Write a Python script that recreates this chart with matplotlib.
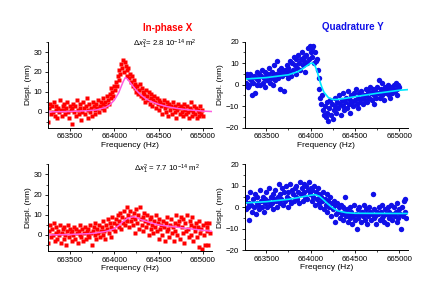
import numpy as np
import matplotlib
matplotlib.use('Agg')
from matplotlib import pyplot as plt
from matplotlib.ticker import MultipleLocator

plt.rcParams['font.family'] = ['Liberation Sans', 'DejaVu Sans']
plt.rcParams['mathtext.fontset'] = 'custom'
plt.rcParams['mathtext.rm'] = 'Liberation Sans'
plt.rcParams['mathtext.it'] = 'Liberation Sans:italic'

# frequency sweep (Hz)
freq_top = np.arange(663260, 665001, 10)
freq_bot = np.arange(663260, 665081, 10)

# in-phase X, top
x_top = [-5, 2, 4, -1, 3, 0, 5, -2, 1, 3, -3, 2, 0, 6, 1,
         -2, 3, 1, 4, -1, 2, 5, 0, -3, 3, 1, -6, 2, 4, 0,
         3, -2, 6, 1, -1, 4, 2, -4, 0, 5, 2, -1, 3, 7, -3,
         1, 4, 0, 2, -2, 5, 3, 1, -1, 4, 2, 6, 0, 3, 5,
         2, 7, 4, 1, 5, 3, 8, 6, 4, 9, 7, 12, 10, 8, 13,
         11, 15, 13, 18, 16, 21, 19, 24, 22, 26, 20, 25, 23, 21, 18,
         22, 17, 19, 15, 18, 13, 16, 12, 14, 10, 13, 9, 11, 14, 8,
         12, 7, 10, 9, 5, 11, 8, 6, 10, 4, 7, 9, 3, 6, 8,
         5, 2, 7, 4, 6, 1, 5, 3, -1, 4, 6, 2, 0, 5, 3,
         -2, 4, 1, 3, -1, 5, 2, 0, 3, -3, 1, 4, 2, -1, 3,
         0, 2, -2, 4, 1, -1, 3, 0, -3, 2, 5, 1, -2, 0, 3,
         -1, 2, -3, 1, 0, -2, 3, -1, 1, -2]
fitx_top_f = [663250, 663500, 663700, 663800, 663900, 663950, 664000, 664050, 664100,
              664125, 664150, 664200, 664250, 664300, 664350, 664400, 664500, 664600,
              664700, 664800, 664900, 665000, 665100]
fitx_top = [0.0, 0.2, 0.6, 1.0, 2.2, 3.5, 5.8, 9.5, 15.0,
            17.2, 16.5, 13.5, 10.8, 8.5, 6.8, 5.5, 3.8, 2.6,
            1.8, 1.2, 0.8, 0.4, 0.2]

# quadrature Y, top
y_top = [4, 1, 5, -1, 3, 0, 5, 2, -5, 1, 4, -4, 3, 0, 6,
         2, 5, 0, 4, 7, 1, 3, 6, -1, 4, 2, 5, 8, 1, 3,
         6, 0, 4, 9, 2, 5, 11, 3, 7, -2, 5, 8, 4, 6, -3,
         7, 5, 9, 3, 8, 6, 11, 4, 10, 7, 13, 9, 5, 12, 8,
         14, 10, 7, 12, 15, 9, 13, 11, 6, 14, 10, 17, 12, 18, 15,
         17, 13, 18, 10, 15, 11, 12, 7, 3, -2, -6, -9, -5, -12, -14,
         -10, -15, -8, -13, -17, -11, -7, -14, -9, -16, -12, -6, -10, -13, -8,
         -11, -5, -9, -14, -7, -10, -4, -12, -8, -6, -11, -3, -9, -7, -13,
         -5, -8, -10, -4, -7, -2, -9, -6, -11, -4, -8, -3, -6, -9, -5,
         -7, -2, -5, -8, -3, -6, -1, -4, -7, -2, -5, -9, -3, -6, -1,
         -4, 2, -6, -2, -5, 1, -3, -7, -1, -4, -2, 0, -5, -3, -6,
         -1, -4, -2, 0, -3, 1, -2, -5, 0, -1]
fity_top_f = [663250, 663500, 663750, 663850, 663900, 663950, 664000, 664025, 664050,
              664075, 664100, 664125, 664150, 664200, 664250, 664300, 664400, 664500,
              664750, 665000, 665100]
fity_top = [2.6, 3.3, 4.6, 6.0, 7.1, 8.6, 10.0, 10.0, 8.8,
            6.0, 2.2, -1.0, -3.5, -6.0, -6.9, -6.9, -6.3, -5.6,
            -4.0, -2.6, -2.3]

# in-phase X, bottom
x_bot = [-4, 2, 5, -1, 3, 0, 6, -3, 1, 4, -2, 2, 0, 5, -4,
         1, 3, -2, 4, 0, -5, 2, 5, -1, 3, 1, -3, 2, 0, 4,
         -2, 3, 1, -4, 2, 5, 0, -1, 3, -3, 1, 4, -2, 2, 0,
         3, -1, 5, 1, -5, 2, 4, 0, 6, -2, 3, 1, 5, -1, 2,
         4, 0, 7, 2, -2, 5, 3, 8, 1, 6, 4, -1, 9, 3, 6,
         2, 8, 5, 10, 4, 7, 11, 3, 9, 6, 12, 5, 8, 14, 7,
         10, 4, 12, 7, 9, 5, 11, 1, 8, 13, 6, 10, 3, 14, 8,
         5, 9, 2, 11, 7, 4, 10, 6, 0, 8, 3, 9, 5, 1, 7,
         4, 10, 2, 6, -2, 8, 3, 5, 0, 7, 4, -3, 6, 2, 9,
         3, -1, 5, 8, 1, 4, -3, 6, 2, 10, 0, 5, 7, -2, 9,
         4, 1, 8, -4, 6, 2, 10, 3, -1, 7, 0, 5, 9, -3, 4,
         2, 6, -1, 4, -6, 7, 1, 3, -7, 5, 0, -5, 6, 2, 4,
         -5, 6, 1]
fitx_bot_f = [663250, 663500, 663750, 663900, 664000, 664050, 664100, 664150, 664200,
              664225, 664250, 664300, 664400, 664500, 664750, 665000, 665100]
fitx_bot = [0.0, 0.2, 0.7, 1.7, 3.0, 4.6, 6.7, 8.2, 8.9,
            9.0, 8.7, 7.6, 6.2, 5.0, 3.6, 2.3, 1.8]

# quadrature Y, bottom
y_bot = [3, -1, 5, 0, -6, 2, 7, 1, -2, 4, 0, 6, -3, 2, 5,
         1, -1, 8, 3, 0, 5, -2, 4, 2, 7, 0, 3, 9, 1, 5,
         2, 6, -1, 4, 8, 3, 0, 5, 11, 2, 6, 4, 9, 1, 7,
         3, 10, 5, 0, 7, 4, 11, 2, 8, 6, 3, 9, 5, 10, 4,
         7, 2, 12, 6, 9, 3, 11, 7, 5, 10, 4, 8, 12, 6, 9,
         3, 8, 5, 10, 1, 7, 4, 9, 2, 6, 0, 5, 3, 7, -1,
         4, 1, 6, -2, 3, 0, 5, -4, 2, -1, 3, -7, 1, -3, 2,
         -2, 0, -5, 1, -3, -6, 0, -2, 5, -4, -1, -7, -3, 0, -5,
         -2, -8, -4, 1, -6, -3, -10, -1, -5, 0, -3, -7, -2, -4, 1,
         -6, -3, -1, -8, -4, 0, -2, -6, -3, 6, -5, -1, -4, -8, -2,
         -3, 0, -6, -2, -5, 1, -4, -7, -1, -3, -8, 0, -5, -2, -4,
         1, -6, -3, 0, -4, -2, -7, 2, -5, -1, -3, -10, 0, -4, 3,
         -2, 4, -5]
fity_bot_f = [663250, 663500, 663750, 663900, 664000, 664050, 664100, 664150, 664200,
              664250, 664300, 664400, 664500, 665000, 665100]
fity_bot = [2.0, 2.6, 3.7, 4.8, 5.6, 5.9, 5.1, 3.3, 1.4,
            -0.3, -1.6, -2.5, -2.8, -2.9, -2.9]

red = '#ff0000'
blue = '#1010e8'
pink = '#ff5ce0'
cyan = '#00e8ff'

fig = plt.figure(figsize=(4.36, 2.94), dpi=100)
ax1 = fig.add_axes([0.110, 0.565, 0.376, 0.292])
ax2 = fig.add_axes([0.561, 0.566, 0.375, 0.292])
ax3 = fig.add_axes([0.110, 0.146, 0.376, 0.295])
ax4 = fig.add_axes([0.561, 0.149, 0.375, 0.292])

ax1.plot(freq_top, x_top, 's', color=red, ms=3.5, mec='none')
ax1.plot(fitx_top_f, fitx_top, '-', color=pink, lw=1.1)
ax2.plot(freq_top, y_top, 'o', color=blue, ms=3.9, mec='none')
ax2.plot(fity_top_f, fity_top, '-', color=cyan, lw=1.2)
ax3.plot(freq_bot, x_bot, 's', color=red, ms=3.5, mec='none')
ax3.plot(fitx_bot_f, fitx_bot, '-', color=pink, lw=1.1)
ax4.plot(freq_bot, y_bot, 'o', color=blue, ms=3.9, mec='none')
ax4.plot(fity_bot_f, fity_bot, '-', color=cyan, lw=1.2)

for ax in [ax1, ax2, ax3, ax4]:
    ax.set_xlim(663255, 665100)
    ax.spines['top'].set_visible(False)
    ax.spines['right'].set_visible(False)
    ax.spines['left'].set_linewidth(0.7)
    ax.spines['bottom'].set_linewidth(0.7)
    ax.xaxis.set_major_locator(MultipleLocator(500))
    ax.xaxis.set_minor_locator(MultipleLocator(250))
    ax.yaxis.set_major_locator(MultipleLocator(10))
    ax.yaxis.set_minor_locator(MultipleLocator(5))
    ax.tick_params(which='major', direction='out', length=2.5, width=0.6, labelsize=5.7, pad=1.5)
    ax.tick_params(which='minor', direction='out', length=1.5, width=0.5)
    ax.set_ylabel('Displ. (nm)', fontsize=6, labelpad=1)

for ax in [ax1, ax3]:
    ax.set_ylim(-8, 35)
for ax in [ax2, ax4]:
    ax.set_ylim(-20, 20)

ax1.set_xlabel('Frequency (Hz)', fontsize=6, labelpad=1)
ax2.set_xlabel('Frequency (Hz)', fontsize=6, labelpad=1)
ax3.set_xlabel('Frequency (Hz)', fontsize=6, labelpad=1)
ax4.set_xlabel('Freqency (Hz)', fontsize=6, labelpad=1)

fig.text(168/436, 1-28/294, 'In-phase X', color=red, fontsize=7, fontweight='bold', ha='center', va='center')
fig.text(353/436, 1-27/294, 'Quadrature Y', color=blue, fontsize=7, fontweight='bold', ha='center', va='center')
fig.text(165/436, 1-44/294, r'$\Delta x_1^2$= 2.8 10$^{-14}$ m$^2$', fontsize=5.6, ha='center', va='center')
fig.text(167/436, 1-169/294, r'$\Delta x_1^2$ = 7.7 10$^{-14}$ m$^2$', fontsize=5.6, ha='center', va='center')

plt.savefig('out.png', dpi=100)
